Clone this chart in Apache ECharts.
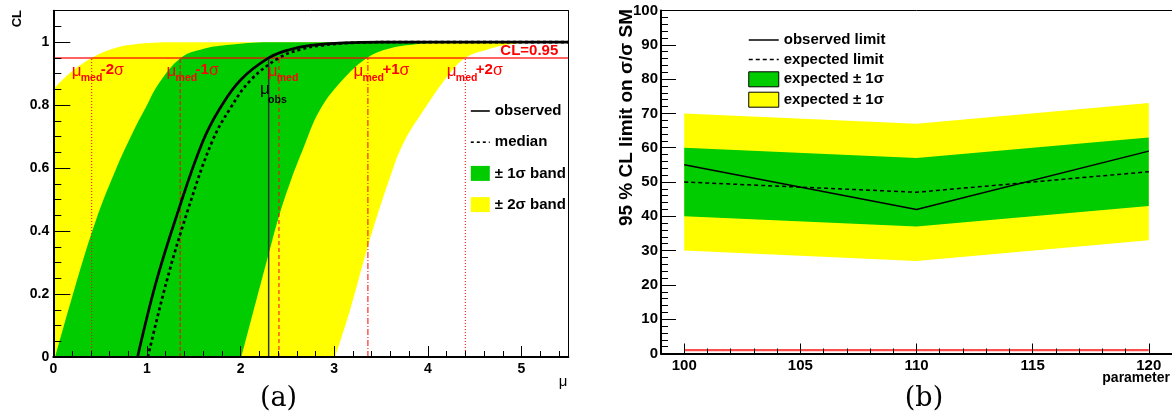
<!DOCTYPE html>
<html><head><meta charset="utf-8">
<script src="https://cdn.jsdelivr.net/npm/echarts@6/dist/echarts.min.js"></script>
<style>html,body{margin:0;padding:0;background:#fff}#c{width:1172px;height:417px}</style>
</head><body><div id="c"></div>
<script>
// ---------- Panel (a): CL versus mu, [mu, CL] pairs ----------
const observedCL = [[0.90,0],[1.10,0.24],[1.33,0.46],[1.59,0.68],[1.78,0.79],[2.0,0.88],[2.30,0.95],[2.53,0.977],[2.75,0.99],[3.1,0.998],[3.5,1.0],[5.5,1.0]];
const medianCL   = [[1.01,0],[1.21,0.24],[1.43,0.46],[1.69,0.68],[1.89,0.79],[2.11,0.88],[2.41,0.95],[2.64,0.977],[2.87,0.99],[3.2,0.998],[3.6,1.0],[5.5,1.0]];
const minus2CL   = [[0,0.85],[0.18,0.903],[0.41,0.95],[0.61,0.977],[0.85,0.993],[1.3,1.0],[5.5,1.0]];
const minus1CL   = [[0.02,0],[0.23,0.22],[0.45,0.43],[0.66,0.59],[0.86,0.72],[1.0,0.8],[1.13,0.87],[1.36,0.95],[1.58,0.977],[1.85,0.991],[2.3,1.0],[5.5,1.0]];
const plus1CL    = [[2.01,0],[2.32,0.35],[2.42,0.457],[2.54,0.563],[2.66,0.655],[2.85,0.786],[3.12,0.89],[3.35,0.95],[3.55,0.977],[3.85,0.993],[4.3,1.0],[5.5,1.0]];
const plus2CL    = [[3.01,0],[3.17,0.15],[3.37,0.362],[3.60,0.574],[3.74,0.68],[3.96,0.786],[4.21,0.892],[4.40,0.95],[4.64,0.977],[4.92,0.995],[5.3,1.0],[5.5,1.0]];
const clLevel = 0.95;
const muCrossings = [0.41, 1.355, 2.41, 3.36, 4.40];   // mu_med -2s, -1s, med, +1s, +2s
const crossingSuffix = ['-2', '-1', '', '+1', '+2'];
const crossingLabelMu = [0.197, 1.21, 2.29, 3.205, 4.203];
const muObs = 2.30;
const muObsLabel = 2.208;

// ---------- Panel (b): limit versus parameter ----------
const params = [100, 110, 120];
const observedLimit = [55, 42, 59];
const expectedLimit = [50, 47, 53];
const band1Low  = [40, 37, 43];
const band1High = [60, 57, 63];
const band2Low  = [30, 27, 33];
const band2High = [70, 67, 73];
const smLine = [1, 1, 1];

const F = '"Liberation Sans", Arial, Helvetica, sans-serif';
const GREEN = '#00cc00', YELLOW = '#ffff00';

const chart = echarts.init(document.getElementById('c'), null, {renderer: 'canvas', width: 1172, height: 417});

const gA = {left: 53.3, top: 10.7, width: 515, height: 346.3};
const gB = {left: 661, top: 10.5, width: 511, height: 343};
const gB2 = {left: 661 + 511 / 22, top: 10.5, width: 511 * 20 / 22, height: 343};

const lbl = (size) => ({fontFamily: F, fontWeight: 'bold', fontSize: size, color: '#000'});

const xAxes = [
  {type: 'value', gridIndex: 0, position: 'bottom', min: 0, max: 5.5, interval: 1, z: 10,
   axisLine: {onZero: false, lineStyle: {color: '#000', width: 2}},
   axisTick: {inside: true, length: 11, lineStyle: {color: '#000', width: 1}},
   axisLabel: Object.assign({margin: 5, formatter: v => (Math.abs(v - Math.round(v)) < 1e-6 ? String(Math.round(v)) : '')}, lbl(14)),
   splitLine: {show: false}},
  {type: 'value', gridIndex: 0, position: 'bottom', min: 0, max: 5.5, interval: 0.2, z: 10,
   axisLine: {show: false, onZero: false}, axisTick: {inside: true, length: 6, lineStyle: {color: '#000', width: 1}},
   axisLabel: {show: false}, splitLine: {show: false}},
  {type: 'value', gridIndex: 0, position: 'top', min: 0, max: 5.5, z: 10,
   axisLine: {onZero: false, lineStyle: {color: '#000', width: 1}}, axisTick: {show: false}, axisLabel: {show: false}, splitLine: {show: false}},
  {type: 'value', gridIndex: 1, position: 'bottom', min: 99, max: 121, interval: 1, z: 10,
   axisLine: {onZero: false, lineStyle: {color: '#000', width: 2}},
   axisTick: {inside: true, length: 5, lineStyle: {color: '#000', width: 1}},
   axisLabel: {show: false}, splitLine: {show: false}},
  {type: 'value', gridIndex: 1, position: 'top', min: 99, max: 121, z: 10,
   axisLine: {onZero: false, lineStyle: {color: '#000', width: 1}}, axisTick: {show: false}, axisLabel: {show: false}, splitLine: {show: false}},
  {type: 'value', gridIndex: 2, position: 'bottom', min: 100, max: 120, interval: 5, z: 10,
   axisLine: {show: false, onZero: false},
   axisTick: {inside: true, length: 10, lineStyle: {color: '#000', width: 1}},
   axisLabel: Object.assign({margin: 5}, lbl(15)), splitLine: {show: false}}
];

const yAxes = [
  {type: 'value', gridIndex: 0, position: 'left', min: 0, max: 1.1, interval: 0.2, z: 10,
   axisLine: {onZero: false, lineStyle: {color: '#000', width: 2}},
   axisTick: {inside: true, length: 17, lineStyle: {color: '#000', width: 1}},
   axisLabel: Object.assign({margin: 4, formatter: v => (v > 1.05 ? '' : String(Math.round(v * 10) / 10))}, lbl(14)),
   splitLine: {show: false}},
  {type: 'value', gridIndex: 0, position: 'left', min: 0, max: 1.1, interval: 0.05, z: 10,
   axisLine: {show: false, onZero: false}, axisTick: {inside: true, length: 8, lineStyle: {color: '#000', width: 1}},
   axisLabel: {show: false}, splitLine: {show: false}},
  {type: 'value', gridIndex: 0, position: 'right', min: 0, max: 1.1, z: 10,
   axisLine: {onZero: false, lineStyle: {color: '#000', width: 1}}, axisTick: {show: false}, axisLabel: {show: false}, splitLine: {show: false}},
  {type: 'value', gridIndex: 1, position: 'left', min: 0, max: 100, interval: 10, z: 10,
   axisLine: {onZero: false, lineStyle: {color: '#000', width: 2}},
   axisTick: {inside: true, length: 15, lineStyle: {color: '#000', width: 1}},
   minorTick: {show: true, splitNumber: 5, length: 7, lineStyle: {color: '#000', width: 1}},
   axisLabel: Object.assign({margin: 3}, lbl(15)), splitLine: {show: false}},
  {type: 'value', gridIndex: 2, position: 'left', min: 0, max: 100, show: false}
];

function bandA(name, data, color, z) {
  return {type: 'line', name, data, xAxisIndex: 0, yAxisIndex: 0, smooth: 0.4,
    symbol: 'none', z, silent: true, color,
    lineStyle: {width: 0, opacity: 0}, areaStyle: {color, opacity: 1, origin: 'start'}};
}
const crossDash = [[1, 2], [4, 2], [4, 3], [6, 2, 1, 2], [1, 2]];

const series = [
  bandA('± 2σ band', minus2CL, YELLOW, 1),
  bandA('± 1σ band', minus1CL, GREEN, 2),
  bandA('plus1', plus1CL, YELLOW, 3),
  bandA('plus2', plus2CL, '#ffffff', 4),
  {type: 'line', name: 'cl', data: [[0, clLevel], [5.5, clLevel]], xAxisIndex: 0, yAxisIndex: 0, symbol: 'none', z: 5, silent: true,
   lineStyle: {color: 'rgba(255,0,0,0.62)', width: 2}}
];
muCrossings.forEach((m, i) => series.push({
  type: 'line', name: 'cross' + i, data: [[m, 0], [m, clLevel]], xAxisIndex: 0, yAxisIndex: 0, symbol: 'none', z: 6, silent: true,
  lineStyle: {color: '#ff0000', width: 1, type: crossDash[i]}
}));
series.push({type: 'line', name: 'obsline', data: [[muObs, 0], [muObs, clLevel]], xAxisIndex: 0, yAxisIndex: 0, symbol: 'none', z: 6, silent: true,
  lineStyle: {color: '#333', width: 1.5}});
series.push({type: 'line', name: 'median', data: medianCL, xAxisIndex: 0, yAxisIndex: 0, smooth: 0.4, symbol: 'none', z: 8, silent: true,
  color: '#000', lineStyle: {color: '#000', width: 2.7, type: [3, 3]}});
series.push({type: 'line', name: 'observed', data: observedCL, xAxisIndex: 0, yAxisIndex: 0, smooth: 0.4, symbol: 'none', z: 9, silent: true,
  color: '#000', lineStyle: {color: '#000', width: 2.7}});

// panel b: bands as polygons between low and high edges, placed through the axes
const pairs = (arr) => params.map((p, i) => [p, arr[i]]);
function bandB(name, low, high, color, z) {
  return {type: 'custom', name, xAxisIndex: 5, yAxisIndex: 4, z, silent: true, itemStyle: {color},
    data: [[params[0], low[0]]],
    renderItem: (prm, api) => {
      const top = params.map((p, i) => api.coord([p, high[i]]));
      const bot = params.map((p, i) => api.coord([p, low[i]])).reverse();
      return {type: 'polygon', shape: {points: top.concat(bot)}, style: {fill: color, stroke: null}};
    }};
}
series.push(bandB('band2', band2Low, band2High, YELLOW, 1));
series.push(bandB('band1', band1Low, band1High, GREEN, 2));
series.push({type: 'line', name: 'sm', data: pairs(smLine), xAxisIndex: 5, yAxisIndex: 4, symbol: 'none', z: 5, silent: true,
  lineStyle: {color: 'rgba(255,0,0,0.7)', width: 2.2}});
series.push({type: 'line', name: 'expected limit', data: pairs(expectedLimit), xAxisIndex: 5, yAxisIndex: 4, symbol: 'none', z: 6, silent: true,
  color: '#000', lineStyle: {color: '#000', width: 1.5, type: [4, 3]}});
series.push({type: 'line', name: 'observed limit', data: pairs(observedLimit), xAxisIndex: 5, yAxisIndex: 4, symbol: 'none', z: 6, silent: true,
  color: '#000', lineStyle: {color: '#000', width: 1.5}});

const legendText = {fontFamily: F, fontWeight: 'bold', fontSize: 15, color: '#000', lineHeight: 15};
const legendB_names = {'band1': 'expected ± 1σ', 'band2': 'expected ± 1σ'};
const noSym = {opacity: 0};

chart.setOption({
  animation: false,
  backgroundColor: '#fff',
  grid: [Object.assign({containLabel: false}, gA), Object.assign({containLabel: false}, gB), Object.assign({containLabel: false}, gB2)],
  xAxis: xAxes,
  yAxis: yAxes,
  legend: [
    {orient: 'vertical', left: 470, top: 103.5, padding: 0, itemWidth: 19, itemHeight: 15, itemGap: 16.2, selectedMode: false, z: 50,
     textStyle: legendText,
     data: [
       {name: 'observed', itemStyle: noSym, lineStyle: {width: 1.6, type: 'solid', color: '#000', opacity: 1}},
       {name: 'median', itemStyle: noSym, lineStyle: {width: 1.6, type: [3, 3], color: '#000', opacity: 1}},
       {name: '± 1σ band', icon: 'rect', itemStyle: {color: GREEN}},
       {name: '± 2σ band', icon: 'rect', itemStyle: {color: YELLOW}}
     ]},
    {orient: 'vertical', left: 748, top: 32.5, padding: 0, itemWidth: 30, itemHeight: 15, itemGap: 4.4, selectedMode: false, z: 50,
     textStyle: legendText, formatter: n => legendB_names[n] || n,
     data: [
       {name: 'observed limit', itemStyle: noSym, lineStyle: {width: 1.5, type: 'solid', color: '#000', opacity: 1}},
       {name: 'expected limit', itemStyle: noSym, lineStyle: {width: 1.5, type: [4, 3], color: '#000', opacity: 1}},
       {name: 'band1', icon: 'rect', itemStyle: {color: GREEN, borderColor: '#000', borderWidth: 1}},
       {name: 'band2', icon: 'rect', itemStyle: {color: YELLOW, borderColor: '#000', borderWidth: 1}}
     ]}
  ],
  series
});

// ---------- text annotations anchored in data coordinates ----------
const toPx = (pt) => chart.convertToPixel({xAxisIndex: 0, yAxisIndex: 0}, pt);
const graphics = [];
crossingLabelMu.forEach((m, i) => {
  const [ax, ay] = toPx([m, clLevel]);
  graphics.push({type: 'text', x: ax, y: ay + 13.3, style: {text: 'μ', fill: '#ff0000', font: '17px ' + F, align: 'left', verticalAlign: 'middle'}});
  graphics.push({type: 'text', x: ax + 9, y: ay + 20, style: {text: 'med', fill: '#ff0000', font: 'bold 10.5px ' + F, align: 'left', verticalAlign: 'middle'}});
  if (crossingSuffix[i]) {
    graphics.push({type: 'text', x: ax + 29, y: ay + 12.3, style: {text: '{b|' + crossingSuffix[i] + '}{s|σ}', fill: '#ff0000', align: 'left', verticalAlign: 'middle',
      rich: {b: {font: 'bold 15px ' + F, fill: '#ff0000'}, s: {font: '16px ' + F, fill: '#ff0000'}}}});
  }
});
(function () {
  const [ax, ay] = toPx([muObsLabel, clLevel]);
  graphics.push({type: 'text', x: ax, y: ay + 31.3, style: {text: 'μ', fill: '#000', font: '17px ' + F, align: 'left', verticalAlign: 'middle'}});
  graphics.push({type: 'text', x: ax + 8, y: ay + 42.4, style: {text: 'obs', fill: '#000', font: 'bold 10.5px ' + F, align: 'left', verticalAlign: 'middle'}});
  const [rx, ry] = toPx([5.5, clLevel]);
  graphics.push({type: 'text', x: rx - 10, y: ry - 7, style: {text: 'CL=0.95', fill: '#ff0000', font: 'bold 15px ' + F, align: 'right', verticalAlign: 'middle'}});
})();
graphics.push({type: 'text', x: 17.5, y: 10, rotation: Math.PI / 2, style: {text: 'CL', fill: '#000', font: 'bold 13px ' + F, align: 'right', verticalAlign: 'middle'}});
graphics.push({type: 'text', x: 563, y: 382, style: {text: 'μ', fill: '#000', font: '15px ' + F, align: 'center', verticalAlign: 'middle'}});
graphics.push({type: 'text', x: 627, y: 9, rotation: Math.PI / 2, style: {text: '95 % CL limit on σ/σ SM', fill: '#000', font: 'bold 19px ' + F, align: 'right', verticalAlign: 'middle'}});
graphics.push({type: 'text', x: 1170, y: 378, style: {text: 'parameter', fill: '#000', font: 'bold 14px ' + F, align: 'right', verticalAlign: 'middle'}});
graphics.push({type: 'text', x: 278.5, y: 399, style: {text: '(a)', fill: '#000', font: '27px "DejaVu Serif", serif', align: 'center', verticalAlign: 'middle'}});
graphics.push({type: 'text', x: 924, y: 399, style: {text: '(b)', fill: '#000', font: '27px "DejaVu Serif", serif', align: 'center', verticalAlign: 'middle'}});
chart.setOption({graphic: graphics.map(g => Object.assign({z: 100, silent: true}, g))});
</script>
</body></html>
